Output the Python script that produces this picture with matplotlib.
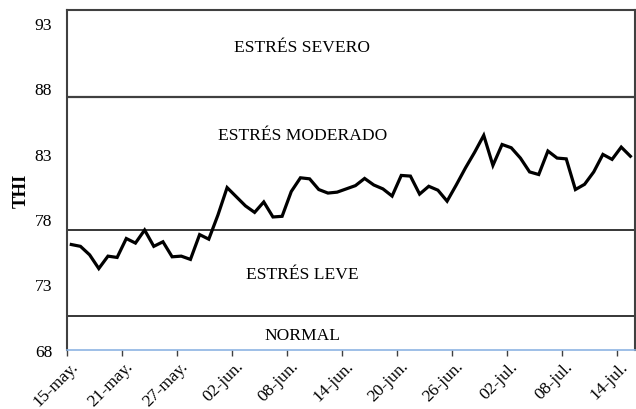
import matplotlib
matplotlib.use("Agg")
import matplotlib.pyplot as plt
import matplotlib.transforms as mtransforms
import numpy as np

# ---- data ----
thi = [76.04, 75.9, 75.25, 74.2, 75.15, 75.05, 76.5, 76.15, 77.15, 75.9,
       76.25, 75.1, 75.15, 74.9, 76.8, 76.45, 78.3, 80.4, 79.7, 79.0,
       78.5, 79.3, 78.15, 78.2, 80.1, 81.15, 81.07, 80.25, 79.98, 80.05,
       80.3, 80.55, 81.1, 80.6, 80.3, 79.75, 81.33, 81.28, 79.9, 80.5,
       80.2, 79.36, 80.6, 81.9, 83.1, 84.4, 82.1, 83.7, 83.45, 82.66,
       81.6, 81.4, 83.2, 82.66, 82.6, 80.25, 80.65, 81.6, 82.94, 82.56,
       83.5, 82.8]
tick_days = [0, 6, 12, 18, 24, 30, 36, 42, 48, 54, 60]
tick_labels = ["15-may.", "21-may.", "27-may.", "02-jun.", "08-jun.", "14-jun.",
               "20-jun.", "26-jun.", "02-jul.", "08-jul.", "14-jul."]
y_ticks = [68, 73, 78, 83, 88, 93]
thresholds = [70.6, 77.15, 87.35]
zone_names = ["NORMAL", "ESTRÉS LEVE", "ESTRÉS MODERADO", "ESTRÉS SEVERO"]
zone_label_y = [69.1, 73.8, 84.45, 91.2]

plt.rcParams['font.family'] = ['Liberation Serif', 'DejaVu Serif']

fig = plt.figure(figsize=(6.36, 4.10), dpi=100)
ax = fig.add_axes([0.1049, 0.1451, 0.8935, 0.8281])

days = np.arange(len(thi)) + 0.5
ax.plot(days, thi, color='black', lw=2.3, solid_joinstyle='miter', zorder=3)

ax.set_xlim(0, len(thi))
ax.set_ylim(68, 94)

# threshold lines
lws = [1.1, 1.1, 1.6]
cols = ['#000000', '#000000', '#404040']
for t, lw, c in zip(thresholds, lws, cols):
    ax.axhline(t, color=c, lw=lw, zorder=2)

for name, yy in zip(zone_names, zone_label_y):
    ax.text(25.7, yy, name, ha='center', va='center', fontsize=12.6)

ax.set_yticks(y_ticks)
ax.set_yticklabels([str(v) for v in y_ticks], fontsize=12.6)
ax.tick_params(axis='y', length=0, pad=10.5)

ax.set_xticks(tick_days)
ax.set_xticklabels(tick_labels, fontsize=12.6, rotation=45, ha='right',
                   va='center', rotation_mode='anchor')
ax.tick_params(axis='x', length=4, width=1, color='#404040', direction='out', pad=6)
offset = mtransforms.ScaledTranslation(9/100, 0, fig.dpi_scale_trans)
for lab in ax.get_xticklabels():
    lab.set_transform(lab.get_transform() + offset)

for s in ['top', 'right', 'left']:
    ax.spines[s].set_color('#404040')
    ax.spines[s].set_linewidth(1.5)
ax.spines['bottom'].set_color('#8eb4e3')
ax.spines['bottom'].set_linewidth(1.2)

fig.text(0.033, 0.535, 'THI', rotation=90, ha='center', va='center',
         fontsize=13.5, fontweight='bold')

fig.savefig('out.png', dpi=100)
